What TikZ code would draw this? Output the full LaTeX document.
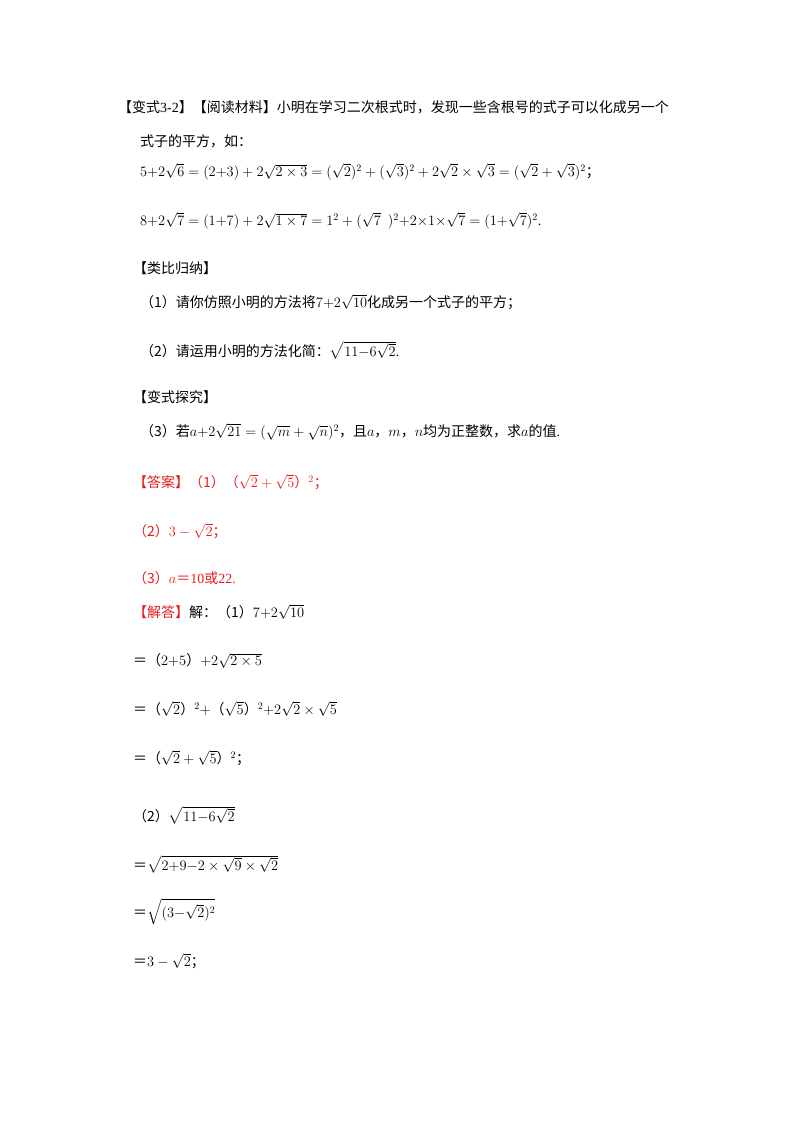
\documentclass[tikz,border=0pt]{standalone}
\usepackage{fontspec}
\setmainfont{Liberation Serif}
\newfontfamily\cjk{Noto Sans CJK SC}
\usepackage{amsmath}
\definecolor{ansred}{RGB}{230,30,30}
\newcommand{\zh}[1]{{\cjk #1}}
\begin{document}
\begin{tikzpicture}[x=1pt,y=1pt,
  txt/.style={anchor=west,inner sep=0pt,font=\fontsize{14}{17}\selectfont},
  red/.style={txt,text=ansred}]
\useasboundingbox (0,0) rectangle (800,-1132);
\fill[white] (0,0) rectangle (800,-1132);
\node[txt] (l1) at (118,-107) {\zh{【变式}3-2\zh{】【阅读材料】小明在学习二次根式时，发现一些含根号的式子可以化成另一个}};
\node[txt] (l2) at (140,-141) {\zh{式子的平方，如：}};
\node[txt] (l3) at (140,-172) {$5{+}2\sqrt{6}=(2{+}3)+2\sqrt{2\times3}=(\sqrt{2})^2+(\sqrt{3})^2+2\sqrt{2}\times\sqrt{3}=(\sqrt{2}+\sqrt{3})^2$\zh{；}};
\node[txt] (l4) at (140,-221) {$8{+}2\sqrt{7}=(1{+}7)+2\sqrt{1\times7}=1^2+(\sqrt{7}\ \ )^2{+}2{\times}1{\times}\sqrt{7}=(1{+}\sqrt{7})^2$.};
\node[txt] (l5) at (133,-268) {\zh{【类比归纳】}};
\node[txt] (l6) at (140,-302) {\zh{（1）请你仿照小明的方法将}$7{+}2\sqrt{10}$\zh{化成另一个式子的平方；}};
\node[txt] (l7) at (140,-350) {\zh{（2）请运用小明的方法化简：}$\sqrt{11{-}6\sqrt{2}}$.};
\node[txt] (l8) at (133,-397) {\zh{【变式探究】}};
\node[txt] (l9) at (140,-432) {\zh{（3）若}$a{+}2\sqrt{21}=(\sqrt{m}+\sqrt{n})^2$\zh{，且}$a$\zh{，}$m$\zh{，}$n$\zh{均为正整数，求}$a$\zh{的值}.};
\node[red] (a1) at (133,-482) {\zh{【答案】（1）（}$\sqrt{2}+\sqrt{5}$\zh{）}$^2$\zh{；}};
\node[red] (a2) at (133,-531) {\zh{（2）}$3-\sqrt{2}$\zh{；}};
\node[red] (a3) at (133,-578) {\zh{（3）}$a$\zh{＝}10\zh{或}22.};
\node[txt] (s0) at (133,-612) {\textcolor{ansred}{\zh{【解答】}}\zh{解：（1）}$7{+}2\sqrt{10}$};
\node[txt] (s1) at (133,-661) {\zh{＝（}$2{+}5$\zh{）}$+2\sqrt{2\times5}$};
\node[txt] (s2) at (133,-709) {\zh{＝（}$\sqrt{2}$\zh{）}$^2+$\zh{（}$\sqrt{5}$\zh{）}$^2{+}2\sqrt{2}\times\sqrt{5}$};
\node[txt] (s3) at (133,-758) {\zh{＝（}$\sqrt{2}+\sqrt{5}$\zh{）}$^2$\zh{；}};
\node[txt] (s4) at (133,-815) {\zh{（2）}$\sqrt{11{-}6\sqrt{2}}$};
\node[txt] (s5) at (133,-864) {\zh{＝}$\sqrt{2{+}9{-}2\times\sqrt{9}\times\sqrt{2}}$};
\node[txt] (s6) at (133,-912) {\zh{＝}$\sqrt{(3{-}\sqrt{2})^2}$};
\node[txt] (s7) at (133,-961) {\zh{＝}$3-\sqrt{2}$\zh{；}};
\end{tikzpicture}
\end{document}
